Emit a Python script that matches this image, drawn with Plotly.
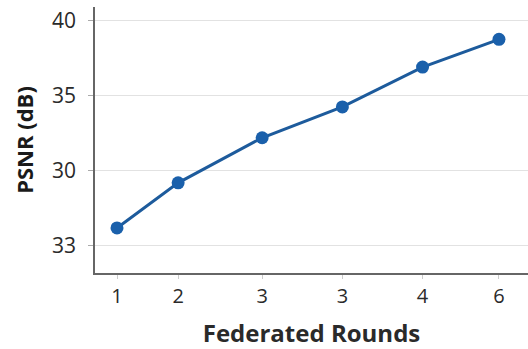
import plotly.graph_objects as go

x_positions = [1, 1.8, 2.9, 3.95, 5, 6]
x_tick_labels = ["1", "2", "3", "3", "4", "6"]
psnr_values = [26.2, 29.2, 32.2, 34.25, 36.9, 38.75]
y_tick_values = [25, 30, 35, 40]
y_tick_labels = ["33", "30", "35", "40"]

fig = go.Figure()
fig.add_trace(go.Scatter(
    x=x_positions, y=psnr_values, mode="lines+markers",
    line=dict(color="#1d5b9c", width=3),
    marker=dict(color="#1a60ab", size=13),
    showlegend=False,
))

font_family = "Open Sans, Noto Sans, DejaVu Sans, sans-serif"
fig.update_layout(
    width=528, height=349,
    margin=dict(l=95, r=0, t=7, b=76, autoexpand=False),
    paper_bgcolor="white", plot_bgcolor="white",
    font=dict(family=font_family, color="#333333", size=21),
    xaxis=dict(
        range=[0.712, 6.38], automargin=False,
        tickvals=x_positions, ticktext=x_tick_labels,
        showgrid=False, zeroline=False,
        showline=True, linecolor="#666666", linewidth=1.5,
        ticks="outside", ticklen=4, tickcolor="#cccccc",
        tickfont=dict(size=20, color="#2a2a2a"),
        title=dict(text="<b>Federated Rounds</b>", font=dict(size=24, color="#2a2a2a"), standoff=18),
    ),
    yaxis=dict(
        range=[23.2, 40.9], automargin=False,
        tickvals=y_tick_values, ticktext=y_tick_labels,
        showgrid=True, gridcolor="#e2e2e2", gridwidth=1, zeroline=False,
        showline=True, linecolor="#666666", linewidth=1.5,
        ticks="outside", ticklen=5, tickcolor="#aaaaaa",
        ticklabelstandoff=8,
        tickfont=dict(size=21, color="#2a2a2a"),
        title=dict(text="<b>PSNR (dB)</b>", font=dict(size=22, color="#1a1a1a"), standoff=12),
    ),
)

fig.write_html("out.html", post_script="document.body.style.margin='0';",
               config={"displayModeBar": False})
